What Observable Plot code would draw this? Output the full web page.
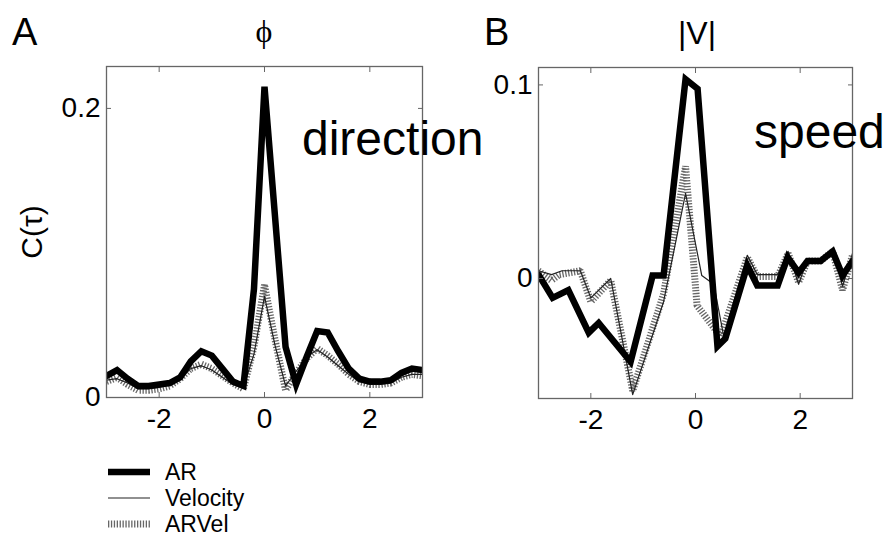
<!DOCTYPE html>
<html><head><meta charset="utf-8">
<script src="https://cdn.jsdelivr.net/npm/d3@7"></script>
<script src="https://cdn.jsdelivr.net/npm/@observablehq/plot@0.6"></script>
<style>
body{margin:0;background:#fff;font-family:"Liberation Sans",Arial,sans-serif;}
#wrap{position:relative;width:885px;height:536px;overflow:hidden;background:#fff;}
#wrap > svg{position:absolute;top:0;}
</style></head><body><div id="wrap"></div>
<script>
// ---- Panel A (phi / direction) ----
const lagA = [-3,-2.8,-2.6,-2.4,-2.2,-2,-1.8,-1.6,-1.4,-1.2,-1,-0.8,-0.6,-0.4,-0.2,0,0.2,0.4,0.6,0.8,1,1.2,1.4,1.6,1.8,2,2.2,2.4,2.6,2.8,3];
const arA    = [0.015,0.019,0.013,0.008,0.008,0.009,0.010,0.014,0.025,0.032,0.029,0.020,0.011,0.008,0.075,0.215,0.125,0.035,0.009,0.028,0.046,0.045,0.032,0.020,0.013,0.011,0.011,0.012,0.017,0.020,0.019];
const velA   = [0.012,0.013,0.010,0.006,0.006,0.007,0.009,0.013,0.020,0.022,0.019,0.014,0.009,0.007,0.030,0.070,0.036,0.008,0.018,0.028,0.033,0.028,0.022,0.016,0.011,0.009,0.009,0.010,0.014,0.016,0.016];
const arvelA = [0.011,0.014,0.009,0.005,0.005,0.006,0.008,0.013,0.020,0.023,0.020,0.015,0.010,0.006,0.035,0.078,0.040,0.005,0.017,0.027,0.034,0.029,0.023,0.016,0.011,0.009,0.009,0.010,0.014,0.016,0.015];

// ---- Panel B (|V| / speed) ----
const lagB_ar = [-3,-2.73,-2.43,-2.04,-1.85,-1.24,-0.82,-0.61,-0.19,0.04,0.42,0.57,0.99,1.18,1.57,1.76,1.97,2.14,2.39,2.62,2.81,3];
const arB     = [0.002,-0.010,-0.006,-0.028,-0.023,-0.043,0.0015,0.0015,0.103,0.098,-0.035,-0.031,0.0067,-0.0036,-0.0036,0.011,0.003,0.009,0.009,0.014,0.0015,0.009];
const lagB_vel = [-3,-2.75,-2.55,-2.2,-2,-1.62,-1.2,-0.61,-0.19,0.12,0.35,0.54,0.99,1.18,1.57,1.77,1.97,2.14,2.39,2.62,2.81,3];
const velB     = [0.004,0.002,0.004,0.004,-0.010,0.0,-0.060,-0.012,0.044,0.0015,-0.003,-0.030,0.012,0.002,0.002,0.014,-0.003,0.010,0.009,0.015,-0.004,0.013];
const lagB_arvel = [-3,-2.75,-2.6,-2.2,-2,-1.62,-1.2,-0.61,-0.19,0.03,0.48,0.99,1.18,1.57,1.77,1.97,2.14,2.39,2.62,2.81,3];
const arvelB     = [0.004,-0.001,0.002,0.004,-0.012,-0.001,-0.058,-0.008,0.058,-0.014,-0.030,0.011,0.001,0.001,0.013,-0.002,0.009,0.009,0.014,-0.006,0.012];

const xTicks = [-2, 0, 2];
const yTicksA = [0, 0.2];
const yTicksB = [0, 0.1];
const seriesNames = ["AR", "Velocity", "ARVel"];

const rows = (lags, vals) => lags.map((l, i) => ({lag: l, c: vals[i]}));

const styleAR = {stroke: "#000", strokeWidth: 6.5, strokeLinejoin: "miter", strokeMiterlimit: 6};
const styleVel = {stroke: "#222", strokeWidth: 1.2};
const styleARVel = {stroke: "#666", strokeWidth: 7, strokeDasharray: "1.3,1.6", strokeLinecap: "butt", strokeLinejoin: "bevel"};

function panel({width, ml, mr, mt, mb, yDomain, yTicks, ar, vel, arvel}) {
  const tk = {stroke: "#666", fill: "none", label: null, tickSize: -5};
  return Plot.plot({
    width, height: 440,
    marginLeft: ml, marginRight: mr, marginTop: mt, marginBottom: mb,
    style: {fontFamily: "'Liberation Sans', Arial, sans-serif", fontSize: "28px", background: "transparent", color: "#000", overflow: "visible"},
    x: {domain: [-3, 3]},
    y: {domain: yDomain},
    marks: [
      Plot.line(arvel, {x: "lag", y: "c", ...styleARVel, clip: "frame"}),
      Plot.line(vel, {x: "lag", y: "c", ...styleVel, clip: "frame"}),
      Plot.line(ar, {x: "lag", y: "c", ...styleAR, clip: "frame"}),
      Plot.frame({stroke: "#666", strokeWidth: 1.3}),
      Plot.axisX(xTicks, {anchor: "bottom", ...tk}),
      Plot.axisX(xTicks, {anchor: "top", ...tk}),
      Plot.axisY(yTicks, {anchor: "left", ...tk}),
      Plot.axisY(yTicks, {anchor: "right", ...tk}),
      Plot.axisX(xTicks, {anchor: "bottom", tickSize: 0, tickPadding: 11, fontSize: 28, label: null, tickFormat: d => String(d)}),
      Plot.axisY(yTicks, {anchor: "left", tickSize: 0, tickPadding: 6, fontSize: 28, label: null, tickFormat: d => String(d)})
    ]
  });
}

const wrap = document.getElementById("wrap");
const pA = panel({width: 440, ml: 106, mr: 18, mt: 66, mb: 43, yDomain: [0, 0.229], yTicks: yTicksA,
  ar: rows(lagA, arA), vel: rows(lagA, velA), arvel: rows(lagA, arvelA)});
pA.style.left = "0px";
wrap.appendChild(pA);
const pB = panel({width: 445, ml: 98, mr: 33, mt: 67, mb: 42, yDomain: [-0.062, 0.109], yTicks: yTicksB,
  ar: rows(lagB_ar, arB), vel: rows(lagB_vel, velB), arvel: rows(lagB_arvel, arvelB)});
pB.style.left = "440px";
wrap.appendChild(pB);

// overlay: panel letters, titles, annotations, y label, legend
const ov = d3.create("svg").attr("width", 885).attr("height", 536)
  .style("left", "0px").style("font-family", "'Liberation Sans', Arial, sans-serif");
const t = (x, y, s, size, anchor = "start", fam = null) => {
  const e = ov.append("text").attr("x", x).attr("y", y).attr("font-size", size).attr("text-anchor", anchor).attr("fill", "#000").text(s);
  if (fam) e.attr("font-family", fam);
  return e;
};
t(12, 45, "A", 38);
t(484, 45, "B", 38);
t(264, 42, "ϕ", 32, "middle", "'Liberation Serif', serif");
t(697, 44, "|V|", 32, "middle");
t(302, 155, "direction", 48);
t(754, 148, "speed", 48);
ov.append("text").attr("transform", "translate(42,232) rotate(-90)").attr("text-anchor", "middle")
  .attr("font-size", 30).attr("fill", "#000").text("C(τ)");

const legY = [472, 498, 524];
const legStyles = [styleAR, styleVel, styleARVel];
seriesNames.forEach((name, i) => {
  const s = legStyles[i];
  ov.append("line").attr("x1", 108).attr("x2", 150).attr("y1", legY[i]).attr("y2", legY[i])
    .attr("stroke", s.stroke).attr("stroke-width", s.strokeWidth).attr("stroke-dasharray", s.strokeDasharray || null);
  t(165, legY[i] + 8, name, 23);
});
wrap.appendChild(ov.node());
</script></body></html>
